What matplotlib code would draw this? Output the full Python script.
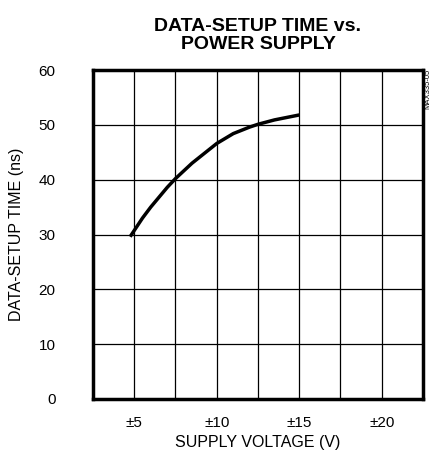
import numpy as np
import matplotlib
matplotlib.use("Agg")
import matplotlib.pyplot as plt

# data
supply_v = [4.75, 5.5, 6.0, 7.0, 7.5, 8.5, 9.0, 10.0, 11.0, 12.0, 12.5, 13.5, 14.0, 15.0]
setup_ns = [29.6, 33.0, 35.0, 38.6, 40.2, 43.0, 44.2, 46.6, 48.4, 49.6, 50.1, 50.9, 51.2, 51.8]
xticks = [5, 10, 15, 20]
xtick_labels = ['±5', '±10', '±15', '±20']
yticks = [0, 10, 20, 30, 40, 50, 60]

plt.rcParams['font.family'] = ['Liberation Sans', 'DejaVu Sans']

fig = plt.figure(figsize=(4.35, 4.59), dpi=100)
ax = fig.add_axes([93/435, 60/459, 330/435, 329/459])

ax.plot(supply_v, setup_ns, color='black', lw=2.5, solid_capstyle='butt')

ax.set_xlim(2.5, 22.5)
ax.set_ylim(0, 60)
ax.set_xticks(xticks)
ax.set_xticklabels(xtick_labels)
ax.set_xticks([7.5, 12.5, 17.5], minor=True)
ax.set_yticks(yticks)
ax.tick_params(which='both', length=0, labelsize=11)
ax.tick_params(axis='x', pad=12)
ax.tick_params(axis='y', pad=27)
ax.grid(True, which='both', color='black', lw=0.9)
ax.set_axisbelow(True)
for s in ax.spines.values():
    s.set_linewidth(2.5)

ax.set_xlabel('SUPPLY VOLTAGE (V)', fontsize=11.5, labelpad=4)
ax.set_ylabel('DATA-SETUP TIME (ns)', fontsize=11.5)
ax.yaxis.set_label_coords(-0.21, 0.5)
ax.set_title('DATA-SETUP TIME vs.\nPOWER SUPPLY', fontsize=14, fontweight='bold',
             linespacing=1.1, pad=15)
fig.text(0.984, 0.806, 'MAX335-05', rotation=90, fontsize=5.5, ha='center', va='center')

fig.savefig('out.png', dpi=100)
